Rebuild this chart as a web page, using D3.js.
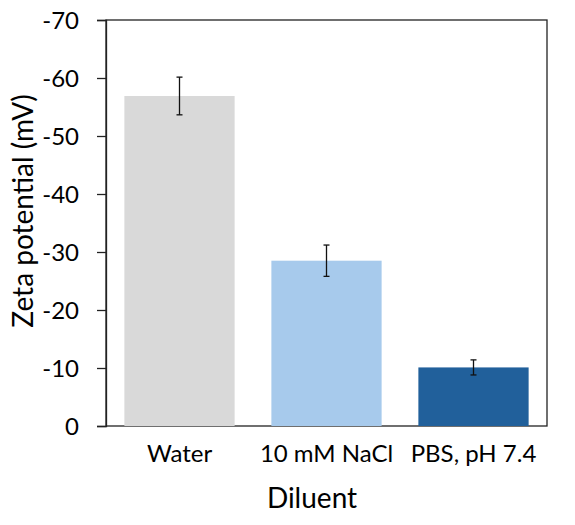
<!DOCTYPE html>
<html><head><meta charset="utf-8">
<script src="https://cdn.jsdelivr.net/npm/d3@7"></script>
<style>body{margin:0;background:#fff}svg{display:block}text{font-family:Lato,"Open Sans",sans-serif;fill:#000}</style>
</head><body><svg id="c" width="575" height="525"></svg>
<script>
const categories = ["Water", "10 mM NaCl", "PBS, pH 7.4"];
const values = [-56.9, -28.5, -10.1];
const errors = [3.25, 2.7, 1.3];
const colors = ["#d9d9d9", "#a7caec", "#21609b"];
const yTicks = [0, -10, -20, -30, -40, -50, -60, -70];

const svg = d3.select("#c");
const L = 106, R = 547, T = 20, B = 426;
const x = d3.scaleBand().domain(categories).range([L, R]).paddingInner(0.25).paddingOuter(0.125);
const y = d3.scaleLinear().domain([0, -70]).range([B, T]);

svg.append("rect").attr("x", L).attr("y", T).attr("width", R - L).attr("height", B - T)
  .attr("fill", "none").attr("stroke", "#222").attr("stroke-width", 1.3);

svg.selectAll(".bar").data(categories).join("rect")
  .attr("x", d => x(d)).attr("width", x.bandwidth())
  .attr("y", (d, i) => y(values[i])).attr("height", (d, i) => y(0) - y(values[i]))
  .attr("fill", (d, i) => colors[i]);

const eb = svg.append("g").attr("stroke", "#111").attr("stroke-width", 1.3);
categories.forEach((d, i) => {
  const cx = x(d) + x.bandwidth() / 2;
  const y1 = y(values[i] - errors[i]), y2 = y(values[i] + errors[i]);
  eb.append("line").attr("x1", cx).attr("x2", cx).attr("y1", y1).attr("y2", y2);
  eb.append("line").attr("x1", cx - 3).attr("x2", cx + 3).attr("y1", y1).attr("y2", y1);
  eb.append("line").attr("x1", cx - 3).attr("x2", cx + 3).attr("y1", y2).attr("y2", y2);
});

const ya = svg.append("g").attr("transform", `translate(${L},0)`)
  .call(d3.axisLeft(y).tickValues(yTicks).tickSize(9).tickFormat(d => String(d)));
ya.select(".domain").attr("stroke", "#222").attr("stroke-width", 1.3);
ya.selectAll(".tick line").attr("stroke", "#222").attr("stroke-width", 1.3);
ya.selectAll(".tick text").style("font-size", "24px").attr("fill", "#000").attr("dy", "0.35em").attr("x", -27);

const xa = svg.append("g").attr("transform", `translate(0,${B})`)
  .call(d3.axisBottom(x).tickSize(0).tickPadding(0));
xa.select(".domain").remove();
xa.selectAll(".tick text").style("font-size", "24px").attr("fill", "#000").attr("dy", null).attr("y", 36);

svg.append("text").attr("x", 312).attr("y", 508).attr("text-anchor", "middle")
  .style("font-size", "28px").text("Diluent");
svg.append("text").attr("transform", "translate(33,211) rotate(-90)").attr("text-anchor", "middle")
  .style("font-size", "28px").text("Zeta potential (mV)");
</script></body></html>
